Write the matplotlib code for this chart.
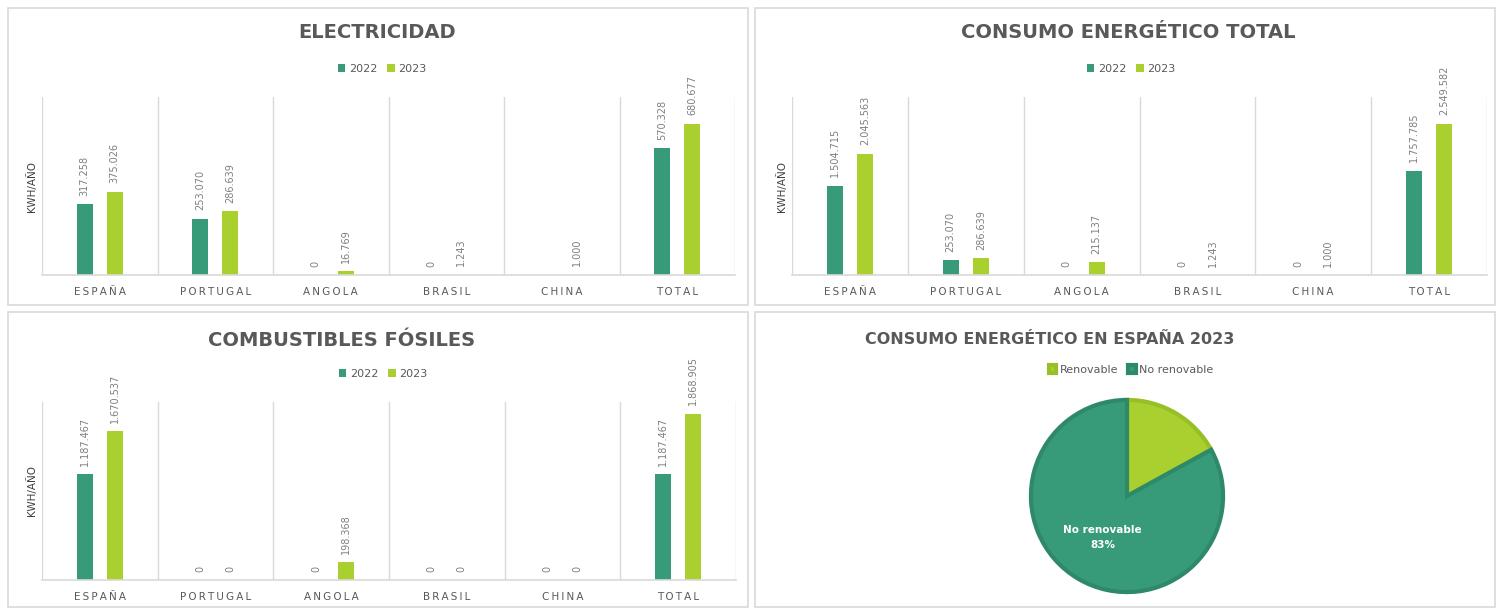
import matplotlib
matplotlib.use("Agg")
import matplotlib.pyplot as plt
import numpy as np
from matplotlib.patches import Rectangle

W, H = 1501, 610

categories = ["ESPAÑA", "PORTUGAL", "ANGOLA", "BRASIL", "CHINA", "TOTAL"]
years = ["2022", "2023"]

elec_2022 = [317258, 253070, 0, 0, np.nan, 570328]
elec_2023 = [375026, 286639, 16769, 1243, 1000, 680677]

total_2022 = [1504715, 253070, 0, 0, 0, 1757785]
total_2023 = [2045563, 286639, 215137, 1243, 1000, 2549582]

fosil_2022 = [1187467, 0, 0, 0, 0, 1187467]
fosil_2023 = [1670537, 0, 198368, 0, 0, 1868905]

pie_labels = ["Renovable", "No renovable"]
pie_values = [17, 83]

DARK = "#379B7A"
LIGHT = "#A9D02E"
DARK_EDGE = "#2E8969"
LIGHT_EDGE = "#97BF27"
GRID = "#D9D9D9"
TITLE = "#595959"
LABEL = "#7F7F7F"

plt.rcParams["font.family"] = ["DejaVu Sans"]


def fx(x):
    return x / W


def fy(y):
    return 1 - y / H


def spaced(s):
    return "\u2009".join(s)


def fmt(v):
    return f"{int(v):,}".replace(",", ".")


fig = plt.figure(figsize=(W / 100, H / 100), dpi=100)

# panel frames
for x0, y0, x1, y1 in [(8, 8, 748, 305), (755, 8, 1495, 305),
                       (8, 312, 748, 607), (755, 312, 1495, 607)]:
    fig.add_artist(Rectangle((fx(x0), fy(y1)), fx(x1 - x0), (y1 - y0) / H,
                             transform=fig.transFigure, fill=False,
                             edgecolor=GRID, linewidth=1.2))


def bar_panel(box, v22, v23, ymax, title, title_xy, legend_xy, ylabel_x):
    x0, y0, x1, y1 = box
    ax = fig.add_axes([fx(x0), fy(y1), fx(x1 - x0), (y1 - y0) / H])
    x = np.arange(len(categories))
    off, bw = 0.13, 0.14
    b1 = ax.bar(x - off, np.nan_to_num(v22), bw, color=DARK, label=years[0])
    b2 = ax.bar(x + off, v23, bw, color=LIGHT, label=years[1])
    for xs, vals in [(x - off, v22), (x + off, v23)]:
        for xi, v in zip(xs, vals):
            if np.isnan(v):
                continue
            ax.annotate(fmt(v), (xi, v), xytext=(0, 6), textcoords="offset points",
                        rotation=90, ha="center", va="bottom", fontsize=7,
                        color=LABEL)
    ax.set_xlim(-0.5, len(categories) - 0.5)
    ax.set_ylim(0, ymax)
    for b in np.arange(-0.5, len(categories), 1.0):
        ax.axvline(b, color=GRID, linewidth=1.0, zorder=0)
    for s in ["top", "right", "left"]:
        ax.spines[s].set_visible(False)
    ax.spines["bottom"].set_color(GRID)
    ax.spines["bottom"].set_linewidth(1.2)
    ax.set_yticks([])
    ax.set_xticks(x)
    ax.set_xticklabels([spaced(c) for c in categories], fontsize=7.5, color=TITLE)
    ax.tick_params(axis="x", length=0, pad=9)
    fig.text(fx(ylabel_x), fy((y0 + y1) / 2), "KWH/AÑO", rotation=90,
             ha="center", va="center", fontsize=7.5, color="#404040")
    fig.text(fx(title_xy[0]), fy(title_xy[1]), title, ha="center",
             va="center", fontsize=14, fontweight="bold", color=TITLE)
    fig.legend(handles=[b1, b2], loc="center",
               bbox_to_anchor=(fx(legend_xy[0]), fy(legend_xy[1])), ncol=2,
               frameon=False, fontsize=8, handlelength=0.7, handleheight=0.7,
               handletextpad=0.3, columnspacing=0.9, labelcolor=TITLE)
    return ax


bar_panel((42, 97, 735, 275), elec_2022, elec_2023, 800000,
          "ELECTRICIDAD", (377, 32), (382, 69), 32)
bar_panel((792, 97, 1487, 275), total_2022, total_2023, 3000000,
          "CONSUMO ENERGÉTICO TOTAL", (1128, 32), (1131, 69), 782)
bar_panel((42, 402, 736, 580), fosil_2022, fosil_2023, 2000000,
          "COMBUSTIBLES FÓSILES", (342, 341), (383, 374), 32)

# pie
cx, cy, r = 1127, 496, 98
pax = fig.add_axes([fx(cx - r), fy(cy + r), fx(2 * r), 2 * r / H])


def pct_label(p):
    return f"No renovable\n{p:.0f}%" if p > 50 else ""


wedges, texts, autotexts = pax.pie(
    pie_values, colors=[LIGHT, DARK], startangle=90, counterclock=False,
    autopct=pct_label, pctdistance=0.5,
    wedgeprops=dict(linewidth=3),
    textprops=dict(color="white", fontsize=7.5, fontweight="bold"))
for w, ec in zip(wedges, [LIGHT_EDGE, DARK_EDGE]):
    w.set_edgecolor(ec)
for t in autotexts:
    t.set_linespacing(1.6)
pax.set_xlim(-1.02, 1.02)
pax.set_ylim(-1.02, 1.02)
pax.set_aspect("equal")

fig.text(fx(1050), fy(340), "CONSUMO ENERGÉTICO EN ESPAÑA 2023",
         ha="center", va="center", fontsize=11.5, fontweight="bold", color=TITLE)
fig.legend(handles=wedges, labels=pie_labels, loc="center",
           bbox_to_anchor=(fx(1131), fy(370)), ncol=2, frameon=False,
           fontsize=8, handlelength=0.7, handleheight=0.7, handletextpad=0.3,
           columnspacing=0.9, labelcolor=TITLE)

fig.savefig("out.png", dpi=100, facecolor="white")
